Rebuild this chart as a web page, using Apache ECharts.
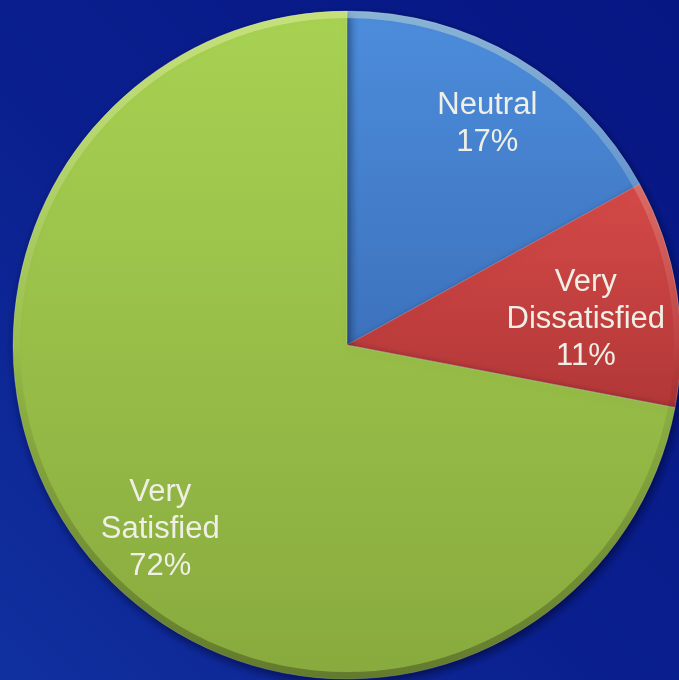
<!DOCTYPE html>
<html>
<head>
<meta charset="utf-8">
<style>
  html, body { margin: 0; padding: 0; }
  #chart { width: 679px; height: 680px; }
</style>
<script src="https://cdn.jsdelivr.net/npm/echarts@6/dist/echarts.min.js"></script>
</head>
<body>
<div id="chart"></div>
<script>
// Survey responses, in percent
const categories = ['Neutral', 'Very Dissatisfied', 'Very Satisfied'];
const values = [17, 11, 72];

// Slice fills: top colour and bottom colour of each vertical gradient
const sliceTop = ['#4c8ddb', '#d44a48', '#a8d252'];
const sliceBottom = ['#3d72bd', '#b23737', '#88aa3e'];

// Small nudges for the label blocks inside each slice
const labelOffsets = [[9, 1], [-16, 15], [12, 20]];

const CX = 347, CY = 345, R = 334;

function grad(top, bottom) {
  return {
    type: 'linear', x: 0, y: 0, x2: 0, y2: 1,
    colorStops: [{ offset: 0, color: top }, { offset: 1, color: bottom }]
  };
}

const chart = echarts.init(document.getElementById('chart'), null, { renderer: 'canvas' });

const sliceData = categories.map((name, i) => ({
  name, value: values[i],
  itemStyle: { color: grad(sliceTop[i], sliceBottom[i]) }
}));

const bevelData = categories.map((name, i) => ({ name, value: values[i] }));

const labelData = categories.map((name, i) => ({
  name, value: values[i],
  label: { offset: labelOffsets[i] }
}));

chart.setOption({
  backgroundColor: {
    type: 'linear', x: 1, y: 0, x2: 0, y2: 1,
    colorStops: [
      { offset: 0, color: '#061683' },
      { offset: 0.55, color: '#0a1f8e' },
      { offset: 1, color: '#11309f' }
    ]
  },
  animation: false,
  series: [
    {
      type: 'pie',
      center: [CX, CY],
      radius: [0, R],
      startAngle: 90,
      clockwise: true,
      silent: true,
      label: { show: false },
      labelLine: { show: false },
      itemStyle: {
        borderColor: 'rgba(255,255,255,0.22)',
        borderWidth: 1,
        shadowColor: 'rgba(0,0,20,0.55)',
        shadowBlur: 10,
        shadowOffsetX: 2,
        shadowOffsetY: 4
      },
      data: sliceData
    },
    {
      // thin rim that lightens the upper edge and darkens the lower edge
      type: 'pie',
      center: [CX, CY],
      radius: [R - 7, R],
      startAngle: 90,
      clockwise: true,
      silent: true,
      label: { show: false },
      labelLine: { show: false },
      itemStyle: {
        borderWidth: 0,
        color: {
          type: 'linear', x: 0, y: CY - R, x2: 0, y2: CY + R, global: true,
          colorStops: [
            { offset: 0, color: 'rgba(255,255,200,0.35)' },
            { offset: 0.5, color: 'rgba(255,255,255,0.04)' },
            { offset: 0.55, color: 'rgba(0,0,0,0.04)' },
            { offset: 1, color: 'rgba(0,0,0,0.28)' }
          ]
        }
      },
      data: bevelData
    },
    {
      // transparent ring that carries the slice labels
      type: 'pie',
      center: [CX, CY],
      radius: [176, R],
      startAngle: 90,
      clockwise: true,
      silent: true,
      itemStyle: { color: 'rgba(0,0,0,0)', borderWidth: 0 },
      labelLine: { show: false },
      label: {
        show: true,
        position: 'inside',
        color: '#efefe6',
        fontFamily: 'Liberation Sans, Arial, sans-serif',
        fontSize: 31,
        lineHeight: 37,
        align: 'center',
        formatter: p => p.name.replace(' ', '\n') + '\n' + p.value + '%'
      },
      data: labelData
    }
  ]
});
</script>
</body>
</html>
